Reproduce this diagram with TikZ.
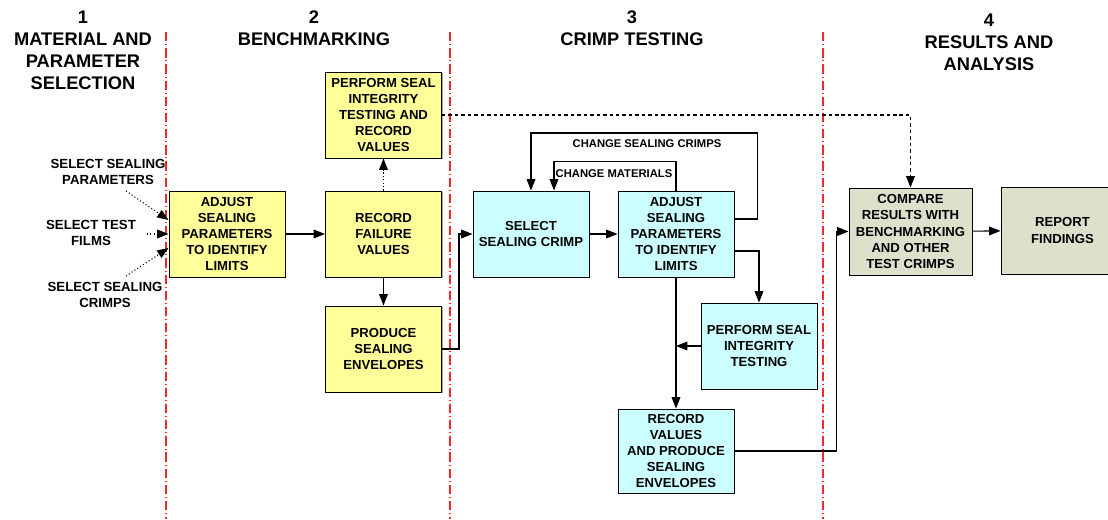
\documentclass[tikz,border=0pt]{standalone}
\usepackage{fontspec}
\setmainfont{Liberation Sans}
\usetikzlibrary{arrows.meta,calc,shadows}
\definecolor{benchyellow}{RGB}{255,255,153}
\definecolor{crimpcyan}{RGB}{204,255,255}
\definecolor{resultgreen}{RGB}{221,225,203}
\definecolor{dividerred}{RGB}{245,40,40}
\tikzset{
    stagebox/.style={draw, line width=0.8pt, inner sep=0pt, align=center,
        minimum width=3.48cm, minimum height=2.58cm,
        font=\fontsize{11.2pt}{13.7pt}\selectfont\bfseries,
        drop shadow={shadow xshift=1pt, shadow yshift=-1pt, fill=gray!70, opacity=1}},
    heading/.style={align=center, inner sep=0pt, font=\fontsize{15.6pt}{18.8pt}\selectfont\bfseries},
    inputlabel/.style={align=center, inner sep=0pt, font=\fontsize{11.3pt}{13.7pt}\selectfont\bfseries},
    looplabel/.style={inner sep=0pt, font=\fontsize{9.6pt}{11pt}\selectfont\bfseries},
    flow/.style={line width=0.9pt, -{Triangle[length=0.34cm, width=0.26cm]}},
    dotflow/.style={flow, dotted},
    dashflow/.style={flow, dash pattern=on 3pt off 2.5pt},
    divider/.style={dividerred, line width=1pt, dash pattern=on 8pt off 2.5pt on 0.8pt off 2.5pt}
}
\begin{document}
\begin{tikzpicture}[x=0.03cm, y=-0.03cm]
        \useasboundingbox (0, 0) rectangle (1108, 519);

        \draw[divider] (166, 32) -- (166, 519);
        \draw[divider] (450, 32) -- (450, 519);
        \draw[divider] (823, 32) -- (823, 519);

        \node[heading] (hd1) at (83, 50) {1\\MATERIAL AND\\PARAMETER\\SELECTION};
        \node[heading] (hd2) at (314, 28) {2\\BENCHMARKING};
        \node[heading] (hd3) at (632, 28) {3\\CRIMP TESTING};
        \node[heading] (hd4) at (989, 42) {4\\RESULTS AND\\ANALYSIS};

        \node[inputlabel] (lblpar) at (108, 172) {SELECT SEALING\\PARAMETERS};
        \node[inputlabel] (lblfilm) at (91, 233) {SELECT TEST\\FILMS};
        \node[inputlabel] (lblcrimp) at (105, 295) {SELECT SEALING\\CRIMPS};
        \coordinate (parend) at (126, 191);
        \coordinate (filmend) at (147, 234);
        \coordinate (crimpend) at (126, 276);

        \node[stagebox, fill=benchyellow] (adj1) at (227, 234) {ADJUST\\SEALING\\PARAMETERS\\TO IDENTIFY\\LIMITS};
        \node[stagebox, fill=benchyellow] (fail) at (383.5, 234) {RECORD\\FAILURE\\VALUES};
        \node[stagebox, fill=benchyellow] (seal1) at (383.5, 115) {PERFORM SEAL\\INTEGRITY\\TESTING AND\\RECORD\\VALUES};
        \node[stagebox, fill=benchyellow] (env1) at (383.5, 349) {PRODUCE\\SEALING\\ENVELOPES};

        \node[stagebox, fill=crimpcyan] (crimp) at (531, 234) {SELECT\\SEALING CRIMP};
        \node[stagebox, fill=crimpcyan] (adj2) at (676, 234) {ADJUST\\SEALING\\PARAMETERS\\TO IDENTIFY\\LIMITS};
        \node[stagebox, fill=crimpcyan] (seal2) at (759, 346) {PERFORM SEAL\\INTEGRITY\\TESTING};
        \node[stagebox, fill=crimpcyan, minimum height=2.52cm] (rec2) at (676, 451) {RECORD\\VALUES\\AND PRODUCE\\SEALING\\ENVELOPES};

        \node[stagebox, fill=resultgreen, minimum width=3.69cm, minimum height=2.61cm] (cmp) at (910.5, 231.5) {COMPARE\\RESULTS WITH\\BENCHMARKING\\AND OTHER\\TEST CRIMPS};
        \node[stagebox, fill=resultgreen, minimum width=3.69cm, minimum height=2.61cm] (rep) at (1062.5, 230.5) {REPORT\\FINDINGS};

        \node[looplabel] (lblchg) at (647, 144) {CHANGE SEALING CRIMPS};
        \node[looplabel] (lblmat) at (614, 174) {CHANGE MATERIALS};

        \draw[dotflow] (parend) -- ($(adj1.west)+(0,-14)$);
        \draw[dotflow] (filmend) -- (adj1.west);
        \draw[dotflow] (crimpend) -- ($(adj1.west)+(0,14)$);

        \draw[flow] (adj1) -- (fail);
        \draw[dotflow] (fail) -- (seal1);
        \draw[flow] (fail) -- (env1);
        \draw[flow] (env1.east) -- ++(17, 0) |- (crimp.west);
        \draw[dashflow] (seal1.east) -| (cmp.north);

        \draw[flow] (crimp) -- (adj2);
        \draw[flow] ($(adj2.east)+(0,-15)$) -- ++(23, 0) -- ++(0, -86) -| (crimp.north);
        \draw[flow] (adj2.north) -- ++(0, -29) -| ($(crimp.north)+(23,0)$);
        \draw[flow] ($(adj2.east)+(0,17)$) -| (seal2.north);
        \draw[flow] (adj2) -- (rec2);
        \draw[flow] (seal2.west) -- (seal2.west -| rec2.north);
        \draw[flow] (rec2.east) -- ++(102, 0) |- (cmp.west);
        \draw[flow] (cmp) -- (rep);
    \end{tikzpicture}
\end{document}
